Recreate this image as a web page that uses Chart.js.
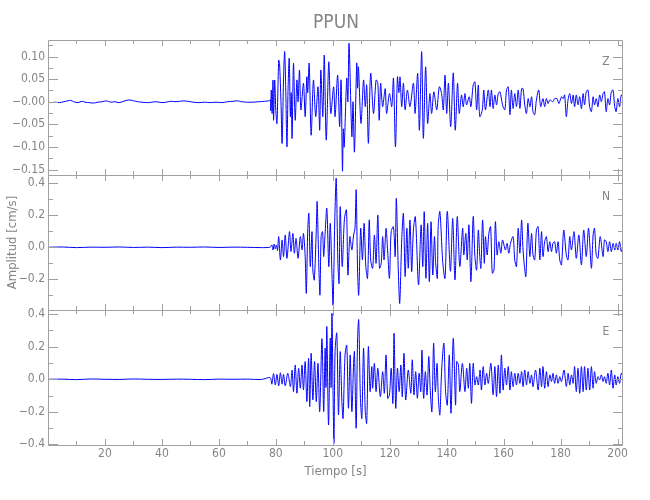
<!DOCTYPE html>
<html>
<head>
<meta charset="utf-8">
<title>PPUN</title>
<script src="https://cdn.jsdelivr.net/npm/chart.js@4.4.1/dist/chart.umd.min.js"></script>
<style>
  html, body { margin: 0; padding: 0; background: #fff; }
  #wrap { position: relative; width: 650px; height: 500px; }
  #wrap canvas { position: absolute; left: 0; top: 0; }
</style>
</head>
<body>
<div id="wrap">
  <canvas id="zChart" width="650" height="500"></canvas>
  <canvas id="nChart" width="650" height="500"></canvas>
  <canvas id="eChart" width="650" height="500"></canvas>
</div>
<script>
// time axis (s)
const timeRange = [0, 201.9];
const xMajorTicks = [20, 40, 60, 80, 100, 120, 140, 160, 180, 200];
const xMinorTicks = [10, 30, 50, 70, 90, 110, 130, 150, 170, 190];

// Z component (cm/s)
const zRange = [-0.162, 0.1365];
const zTickValues = [0.10, 0.05, 0, -0.05, -0.10, -0.15];
const zTickLabels = ["0.10", "0.05", "\u22120.00", "\u22120.05", "\u22120.10", "\u22120.15"];
const zMinorTicks = [0.125, 0.075, 0.025, -0.025, -0.075, -0.125];
const zTimes = [
  0, 1, 2.5, 4, 5.5, 7, 8, 9, 10.5, 12, 13, 14.5, 16, 17.5, 19, 20.5, 22, 23.5, 25, 27,
  28.5, 30, 31.5, 33, 35, 36.5, 38, 40, 41.5, 43, 45, 47.5, 49, 51, 53, 55, 57, 59, 61, 63,
  65, 66.5, 68, 70, 72, 74, 76, 77.5,
  78.1, 78.2, 78.4, 78.7, 79.0, 79.2, 79.6, 80.0, 80.4, 81.0, 81.3, 81.8, 82.2, 82.7, 83.1, 83.5,
  83.9, 84.3, 84.7, 85.1, 85.4, 85.7, 86.2, 86.8, 87.4, 87.8, 88.3, 88.8, 89.7, 90.3, 90.9, 91.2,
  91.7, 92.4, 93.2, 94.0, 94.8, 95.4, 95.8, 96.5, 97.0, 97.7, 98.6, 99.3, 100.3, 100.8, 101.7, 102.4,
  102.9, 103.4, 103.7, 104.0, 104.9, 105.3, 105.7, 106.7, 107.1, 107.6, 108.4, 108.7, 109.0, 109.9, 110.8, 111.4,
  111.9, 112.5, 113.3, 114.3, 115.2, 115.8, 116.3, 116.8, 117.5, 118.4, 118.9, 119.9, 120.7, 121.3, 122.0, 122.7,
  123.2, 123.6, 124.2, 124.8, 125.4, 126.2, 127.1, 128.3, 128.9, 129.8, 130.4, 131.2, 131.8, 132.6, 133.3, 134.1,
  134.7, 135.5, 136.5, 137.4,
  138.2, 138.8, 139.4, 140.0, 140.6, 141.4, 142.3, 143.0, 143.8, 144.4, 145.2, 145.8, 146.4, 147.0, 147.9, 148.5,
  149.3, 149.9, 150.5, 151.1, 151.6, 152.5, 153.0, 153.6, 154.6, 155.2, 155.7, 156.3, 156.9, 157.5, 158.1, 158.7,
  159.6, 160.4, 161.0, 161.6, 162.2, 162.7, 163.3, 163.9, 164.5, 165.1, 165.7, 166.3, 166.8, 167.4, 168.0, 168.6,
  169.2, 169.8, 170.3, 170.9, 171.5, 172.3, 173.0, 173.8, 174.4, 175.0, 175.6, 176.2, 177.3, 177.9, 178.7, 179.4,
  180.3, 180.9, 181.4, 182.0, 182.6, 183.2, 183.8, 184.4, 184.9, 185.5, 186.1, 186.7, 187.3, 187.9, 188.4, 189.0,
  189.6, 190.2, 190.8, 191.4, 191.9, 192.5, 193.1, 193.7, 194.3, 194.9, 195.4, 196.0, 196.6, 197.2, 197.8, 198.4,
  199.0, 199.5, 200.1, 200.7, 201.3, 201.9
];
const zValues = [
  0.000, -0.002, -0.001, -0.002, 0.000, 0.002, 0.003, 0.000, -0.002, 0.001, -0.001, -0.002, -0.003, -0.001, 0.000, 0.002, -0.001, 0.000, -0.002, 0.002,
  0.004, 0.002, 0.000, -0.001, -0.002, -0.001, 0.000, -0.002, -0.001, 0.001, 0.000, 0.002, 0.001, -0.001, -0.002, -0.001, -0.002, -0.001, -0.002, 0.000,
  0.001, 0.002, 0.000, -0.001, -0.001, 0.000, 0.001, 0.002,
  0.004, -0.020, 0.026, -0.026, 0.048, -0.041, 0.048, -0.020, -0.048, 0.092, 0.085, 0.000, -0.092, 0.050, 0.111, 0.020,
  -0.100, 0.030, 0.096, -0.033, 0.020, -0.081, 0.085, -0.041, 0.048, 0.000, 0.070, -0.018, 0.041, -0.033, 0.055, 0.020,
  0.085, -0.074, 0.048, -0.033, 0.033, -0.063, 0.070, -0.033, 0.103, -0.085, 0.088, -0.026, 0.033, -0.033, 0.059, -0.055,
  0.048, -0.153, -0.060, -0.100, 0.052, 0.000, 0.129, -0.077, 0.000, -0.111, 0.085, 0.030, 0.077, -0.048, 0.048, -0.011,
  0.037, -0.092, 0.063, -0.026, 0.048, 0.041, -0.041, 0.041, -0.011, 0.029, -0.026, 0.018, -0.011, 0.052, -0.100, 0.055,
  0.020, 0.055, -0.011, 0.041, -0.018, 0.026, -0.011, 0.041, -0.026, 0.063, -0.063, 0.111, -0.081, 0.077, -0.048, 0.018,
  -0.026, 0.022, -0.018, 0.033,
  0.018, -0.018, 0.059, -0.026, 0.041, -0.055, 0.064, -0.063, 0.041, -0.026, 0.015, -0.011, 0.018, -0.007, 0.011, -0.011,
  0.037, 0.044, -0.018, 0.037, -0.033, -0.018, 0.026, -0.018, 0.026, -0.011, 0.026, -0.015, 0.015, -0.007, 0.018, 0.022,
  -0.007, -0.018, 0.026, 0.033, -0.029, 0.026, -0.015, 0.018, -0.011, 0.026, -0.015, 0.029, 0.029, -0.007, -0.026, 0.007,
  -0.011, 0.011, -0.022, -0.029, 0.004, 0.026, -0.011, 0.007, -0.011, 0.007, -0.004, 0.004, 0.000, 0.007, 0.007, -0.004,
  0.011, 0.007, 0.015, -0.033, 0.004, 0.018, -0.004, 0.015, -0.011, 0.015, -0.007, 0.011, -0.015, 0.018, -0.007, 0.022,
  0.026, -0.011, -0.022, 0.011, -0.007, 0.007, -0.011, 0.015, 0.000, 0.018, 0.022, -0.022, 0.007, -0.007, 0.022, 0.026,
  -0.011, -0.022, 0.007, -0.011, 0.015, 0.010
];

// N component (cm/s)
const nRange = [-0.392, 0.452];
const nTickValues = [0.4, 0.2, 0, -0.2];
const nTickLabels = ["0.4", "0.2", "0.0", "\u22120.2"];
const nMinorTicks = [0.3, 0.1, -0.1, -0.3];
const nTimes = [
  0, 5, 10, 15, 20, 25, 30, 35, 40, 45, 50, 55, 60, 65, 70, 75, 78,
  78.6, 79.0, 79.4, 79.8, 80.2, 80.6, 81.0, 81.6, 82.2, 82.7, 83.3, 83.9, 84.8, 85.3, 86.0, 86.5,
  87.1, 87.8, 88.6, 89.2, 89.7, 90.3, 90.7, 91.2, 91.6, 92.1, 92.7, 93.0, 93.5, 94.2, 94.5, 95.1,
  95.5, 95.9, 96.4, 96.8, 97.3, 97.9, 98.6, 99.1, 99.7, 100.1, 100.7, 101.2, 101.8, 102.2, 102.6, 103.3,
  104.1, 104.8, 105.3, 106.0, 106.7, 107.3, 107.8, 108.2, 108.7, 109.1, 109.8, 110.4, 111.0, 111.6, 112.2, 112.8,
  113.3, 114.0, 114.6, 115.2, 115.8, 116.4, 117.0, 117.5, 118.0, 118.7, 119.3, 119.9, 120.5, 121.3, 121.9, 122.3,
  123.0, 123.5, 124.2, 124.8, 125.4, 126.0, 126.5, 127.1, 127.7, 128.3, 129.0, 130.1, 131.0, 131.6, 132.1, 132.7,
  133.3, 133.9, 134.5, 135.1, 135.7, 136.1, 136.7, 137.0,
  137.6, 138.6, 139.4, 140.2, 141.3, 142.1, 142.9, 143.7, 144.6, 145.6, 146.0, 146.7, 147.2, 147.8, 148.5, 149.3,
  149.9, 150.5, 151.1, 151.6, 152.0, 152.6, 153.2, 153.6, 154.2, 154.8, 155.4, 156.0, 156.6, 157.1, 157.7, 158.3,
  159.0, 159.6, 160.6, 161.2, 161.8, 162.4, 163.3, 163.9, 164.5, 165.1, 165.7, 166.3, 166.8, 167.3, 167.8, 168.5,
  169.2, 169.8, 170.3, 170.9, 171.5, 172.1, 172.7, 173.3, 173.8, 174.4, 175.0, 175.6, 176.2, 176.8, 177.3, 177.9,
  178.5, 179.1, 179.7, 180.3, 181.1, 182.0, 182.6, 183.2, 183.8, 184.7, 185.5, 186.4, 187.3, 188.1, 189.0, 189.8,
  190.8, 191.4, 191.9, 192.5, 193.1, 193.9, 194.9, 195.4, 196.0, 196.6, 197.2, 197.8, 198.4, 199.0, 199.5, 200.1,
  200.7, 201.3, 201.9
];
const nValues = [
  0.000, 0.002, -0.002, 0.001, 0.000, 0.002, -0.001, 0.001, -0.002, 0.001, 0.000, 0.002, -0.001, 0.001, 0.000, -0.002, 0.001,
  0.015, -0.017, 0.020, -0.010, 0.015, -0.020, 0.067, -0.079, 0.046, -0.058, 0.077, -0.069, 0.098, -0.027, 0.087, -0.037,
  0.056, -0.069, 0.067, -0.017, 0.087, -0.058, -0.287, 0.108, 0.212, -0.121, 0.098, -0.142, -0.204, 0.108, 0.285, -0.121,
  -0.298, 0.067, 0.098, -0.058, 0.087, 0.244, -0.121, 0.150, -0.162, -0.360, 0.171, 0.431, -0.100, -0.225, 0.254, -0.121,
  0.181, 0.233, -0.173, 0.067, -0.017, 0.077, 0.119, 0.358, -0.142, -0.298, 0.119, -0.079, 0.150, -0.121, -0.194, 0.171,
  -0.079, -0.131, 0.077, -0.100, 0.202, -0.131, -0.100, 0.067, -0.079, 0.119, -0.037, -0.194, 0.098, 0.129, -0.058, 0.306,
  -0.142, -0.350, 0.046, 0.212, -0.183, 0.119, -0.131, 0.171, -0.152, 0.108, 0.190, -0.235, 0.140, -0.121, 0.223, -0.194,
  0.150, -0.215, 0.160, -0.173, 0.067, -0.090, -0.194, 0.129,
  0.223, -0.090, -0.194, 0.225, -0.150, 0.181, -0.204, 0.192, -0.120, 0.119, -0.048, 0.087, -0.079, 0.140, -0.215, 0.192,
  -0.058, -0.142, 0.108, -0.058, -0.131, 0.171, -0.100, 0.067, -0.048, 0.087, 0.129, -0.162, -0.142, 0.160, -0.048, 0.035,
  -0.037, 0.046, -0.017, 0.025, -0.037, 0.025, 0.067, -0.079, -0.121, 0.119, -0.037, 0.171, -0.017, -0.121, -0.183, 0.150,
  -0.058, 0.087, -0.048, -0.079, 0.108, 0.129, -0.079, 0.098, -0.058, 0.035, 0.067, -0.027, 0.035, -0.027, 0.025, 0.035,
  -0.037, 0.035, -0.079, -0.110, 0.108, -0.048, -0.079, 0.067, -0.017, 0.098, -0.069, 0.077, -0.110, 0.108, -0.058, 0.119,
  -0.131, 0.077, 0.119, -0.048, -0.069, 0.067, -0.058, 0.046, 0.035, -0.027, 0.035, -0.027, 0.025, -0.017, 0.025, -0.017,
  0.035, -0.027, 0.015
];

// E component (cm/s)
const eRange = [-0.404, 0.426];
const eTickValues = [0.4, 0.2, 0, -0.2, -0.4];
const eTickLabels = ["0.4", "0.2", "0.0", "\u22120.2", "\u22120.4"];
const eMinorTicks = [0.3, 0.1, -0.1, -0.3];
const eTimes = [
  0, 5, 10, 15, 20, 25, 30, 35, 40, 45, 50, 55, 60, 65, 70, 75,
  78.0, 78.6, 79.2, 79.8, 80.4, 81.0, 81.6, 82.2, 82.7, 83.3, 84.2, 85.1, 85.7, 86.2, 86.8, 87.4,
  88.0, 88.6, 89.2, 89.7, 90.3, 90.9, 91.5, 91.9, 92.4, 93.0, 93.6, 94.2, 94.8, 95.4, 96.2, 96.8,
  97.3, 97.6, 97.9, 98.5, 99.1, 99.4, 99.7, 100.1, 100.4, 100.8, 101.4, 102.0, 102.6, 103.2, 103.6, 104.3,
  104.9, 105.5, 106.1, 106.7, 107.3, 107.6, 108.2, 108.7, 109.1, 109.7, 110.2, 110.8, 111.4, 111.9, 112.5, 113.1,
  113.7, 114.0, 114.6, 115.2, 115.8, 116.7, 117.5, 118.1, 118.7, 119.3, 119.9, 120.5, 121.1, 121.5, 122.1, 122.7,
  123.3, 123.9, 124.4, 125.0, 125.6, 126.5, 127.4, 127.9, 128.5, 129.1, 129.7, 130.3, 130.9, 131.3, 131.9, 132.5,
  133.1, 133.7, 134.2, 134.8, 135.4, 136.0, 136.6, 137.1,
  137.6, 138.2, 139.0, 139.6, 140.2, 140.9, 141.5, 142.3, 143.1, 143.5, 144.1, 144.6, 145.5, 146.4, 147.0, 147.6,
  148.1, 148.7, 149.3, 149.9, 150.5, 151.1, 151.7, 152.2, 152.8, 153.4, 154.0, 154.6, 155.5, 156.3, 156.9, 157.5,
  158.1, 158.7, 159.2, 159.8, 160.4, 161.0, 161.6, 162.2, 162.7, 163.3, 163.9, 164.5, 165.1, 165.7, 166.3, 166.8,
  167.4, 168.0, 168.6, 169.2, 169.8, 170.3, 171.2, 172.1, 172.7, 173.3, 173.8, 174.4, 175.0, 175.6, 176.2, 176.8,
  177.3, 177.9, 178.5, 179.1, 179.7, 180.3, 181.2, 182.0, 182.6, 183.2, 183.8, 184.4, 184.9, 185.5, 186.1, 186.7,
  187.3, 187.9, 188.4, 189.0, 189.6, 190.2, 190.8, 191.4, 191.9, 192.5, 193.1, 193.7, 194.3, 194.9, 195.4, 196.0,
  196.6, 197.2, 197.8, 198.4, 199.0, 199.5, 200.1, 200.7, 201.3, 201.9
];
const eValues = [
  0.000, 0.001, -0.002, 0.002, 0.000, -0.001, 0.002, 0.000, -0.001, 0.001, 0.000, -0.002, 0.001, 0.000, 0.001, -0.001,
  0.010, -0.030, 0.035, -0.035, 0.030, -0.040, 0.040, -0.030, 0.030, -0.040, 0.037, -0.045, 0.057, -0.076, 0.088, -0.086,
  0.068, -0.055, 0.088, -0.066, 0.109, -0.137, 0.129, -0.168, 0.160, -0.127, 0.109, -0.137, 0.098, -0.199, 0.250, -0.199,
  0.191, -0.050, 0.324, -0.281, 0.252, -0.050, 0.406, -0.100, -0.394, 0.170, 0.283, -0.219, 0.170, -0.137, -0.240, 0.150,
  0.209, -0.178, 0.150, -0.199, 0.098, 0.170, -0.301, 0.252, 0.365, -0.117, -0.240, 0.191, -0.199, -0.271, 0.201, -0.076,
  0.078, -0.055, 0.098, -0.076, 0.068, -0.107, 0.047, -0.086, 0.150, -0.117, -0.096, 0.068, -0.148, 0.283, -0.178, 0.068,
  -0.076, 0.088, -0.107, 0.160, -0.127, 0.057, -0.086, 0.120, -0.096, 0.047, -0.117, 0.037, -0.076, 0.180, -0.117, 0.047,
  -0.096, 0.140, -0.055, -0.199, 0.222, -0.076, 0.098, -0.127,
  -0.219, 0.047, 0.222, -0.076, -0.158, 0.150, -0.209, 0.252, -0.158, 0.109, 0.088, -0.076, 0.098, -0.076, 0.068, -0.055,
  0.098, -0.148, 0.098, -0.035, 0.016, -0.035, 0.057, -0.066, 0.078, -0.035, 0.037, -0.025, 0.098, -0.096, 0.078, -0.107,
  0.088, -0.086, 0.150, -0.066, 0.068, -0.035, 0.078, -0.066, 0.047, -0.045, 0.037, -0.035, 0.037, -0.025, 0.047, -0.045,
  0.057, -0.035, 0.047, -0.025, 0.027, -0.045, 0.057, -0.066, 0.068, -0.045, 0.078, -0.055, 0.047, -0.045, 0.027, -0.014,
  0.037, -0.025, 0.027, -0.025, 0.016, -0.014, 0.057, -0.045, 0.037, -0.035, 0.027, -0.025, 0.078, -0.076, 0.068, -0.086,
  0.078, -0.076, 0.078, -0.066, 0.068, -0.066, 0.078, -0.055, 0.047, -0.025, 0.016, -0.004, 0.027, -0.014, 0.016, -0.025,
  0.037, -0.035, 0.057, -0.055, 0.027, -0.035, 0.016, -0.025, 0.037, 0.016
];

const axisColor = "#a0a0a0";
const textColor = "#858585";
const traceColor = "#0000ff";
const fontFamily = "'Liberation Sans Narrow', 'DejaVu Sans Condensed', 'Liberation Sans', sans-serif";

// frame with inward ticks on all four sides, plus panel letter / title
const frameTicks = {
  id: "frameTicks",
  afterDatasetsDraw(chart, args, opts) {
    const { ctx, chartArea: a, scales } = chart;
    const xs = scales.x;
    const ys = scales.y;
    ctx.save();
    ctx.strokeStyle = axisColor;
    ctx.lineWidth = 1;
    ctx.beginPath();
    ctx.rect(a.left + 0.5, a.top + 0.5, a.right - a.left - 1, a.bottom - a.top);

    const xTick = (v, len) => {
      const px = Math.round(xs.getPixelForValue(v)) + 0.5;
      ctx.moveTo(px, a.top);
      ctx.lineTo(px, a.top + len);
      ctx.moveTo(px, a.bottom);
      ctx.lineTo(px, a.bottom - len);
    };
    const yTick = (v, len) => {
      const py = Math.round(ys.getPixelForValue(v)) + 0.5;
      ctx.moveTo(a.left, py);
      ctx.lineTo(a.left + len, py);
      ctx.moveTo(a.right, py);
      ctx.lineTo(a.right - len, py);
    };
    xMajorTicks.forEach((v) => xTick(v, 6));
    xMinorTicks.forEach((v) => xTick(v, 4));
    opts.yMajor.forEach((v) => yTick(v, 10));
    opts.yMinor.forEach((v) => yTick(v, 5));
    ctx.stroke();

    ctx.fillStyle = textColor;
    ctx.font = `12px ${fontFamily}`;
    ctx.textAlign = "center";
    ctx.textBaseline = "middle";
    ctx.fillText(opts.letter, 606, a.top + 22);
    if (opts.title) {
      ctx.font = `19px ${fontFamily}`;
      ctx.fillText(opts.title, 336, 23);
    }
    ctx.restore();
  }
};

function makePanel(canvasId, times, values, range, tickValues, tickLabels, minorTicks, letter, extra) {
  const showX = !!extra.showX;
  return new Chart(document.getElementById(canvasId), {
    type: "line",
    data: {
      datasets: [{
        data: times.map((t, i) => ({ x: t, y: values[i] })),
        borderColor: traceColor,
        borderWidth: 1,
        pointRadius: 0,
        tension: 0.3,
        fill: false
      }]
    },
    options: {
      responsive: false,
      animation: false,
      events: [],
      layout: { padding: extra.padding },
      plugins: {
        legend: { display: false },
        tooltip: { enabled: false },
        frameTicks: { yMajor: tickValues, yMinor: minorTicks, letter, title: extra.title }
      },
      scales: {
        x: {
          type: "linear",
          min: timeRange[0],
          max: timeRange[1],
          display: showX,
          afterBuildTicks: (s) => { s.ticks = xMajorTicks.map((v) => ({ value: v })); },
          afterFit: (s) => { if (showX) s.height = 34; },
          grid: { display: false, drawTicks: false },
          border: { display: false },
          ticks: {
            autoSkip: false,
            maxRotation: 0,
            padding: 2,
            color: textColor,
            font: { family: fontFamily, size: 12 },
            callback: (v) => String(v)
          },
          title: {
            display: showX,
            text: "Tiempo [s]",
            color: textColor,
            font: { family: fontFamily, size: 13 },
            padding: { top: 4, bottom: 0 }
          }
        },
        y: {
          type: "linear",
          min: range[0],
          max: range[1],
          afterBuildTicks: (s) => { s.ticks = tickValues.map((v) => ({ value: v })); },
          afterFit: (s) => { s.width = 48; },
          grid: { display: false, drawTicks: false },
          border: { display: false },
          ticks: {
            autoSkip: false,
            padding: 3,
            color: textColor,
            font: { family: fontFamily, size: 12 },
            callback: (v, i) => tickLabels[i]
          },
          title: {
            display: !!extra.yTitle,
            text: extra.yTitle || "",
            color: textColor,
            font: { family: fontFamily, size: 13 },
            padding: { top: 5, bottom: 0 }
          }
        }
      }
    },
    plugins: [frameTicks]
  });
}

makePanel("zChart", zTimes, zValues, zRange, zTickValues, zTickLabels, zMinorTicks, "Z",
  { padding: { left: 0, right: 27, top: 40, bottom: 325 }, title: "PPUN" });
makePanel("nChart", nTimes, nValues, nRange, nTickValues, nTickLabels, nMinorTicks, "N",
  { padding: { left: 0, right: 27, top: 175, bottom: 190 }, yTitle: "Amplitud [cm/s]" });
makePanel("eChart", eTimes, eValues, eRange, eTickValues, eTickLabels, eMinorTicks, "E",
  { padding: { left: 0, right: 27, top: 310, bottom: 21 }, showX: true });
</script>
</body>
</html>
